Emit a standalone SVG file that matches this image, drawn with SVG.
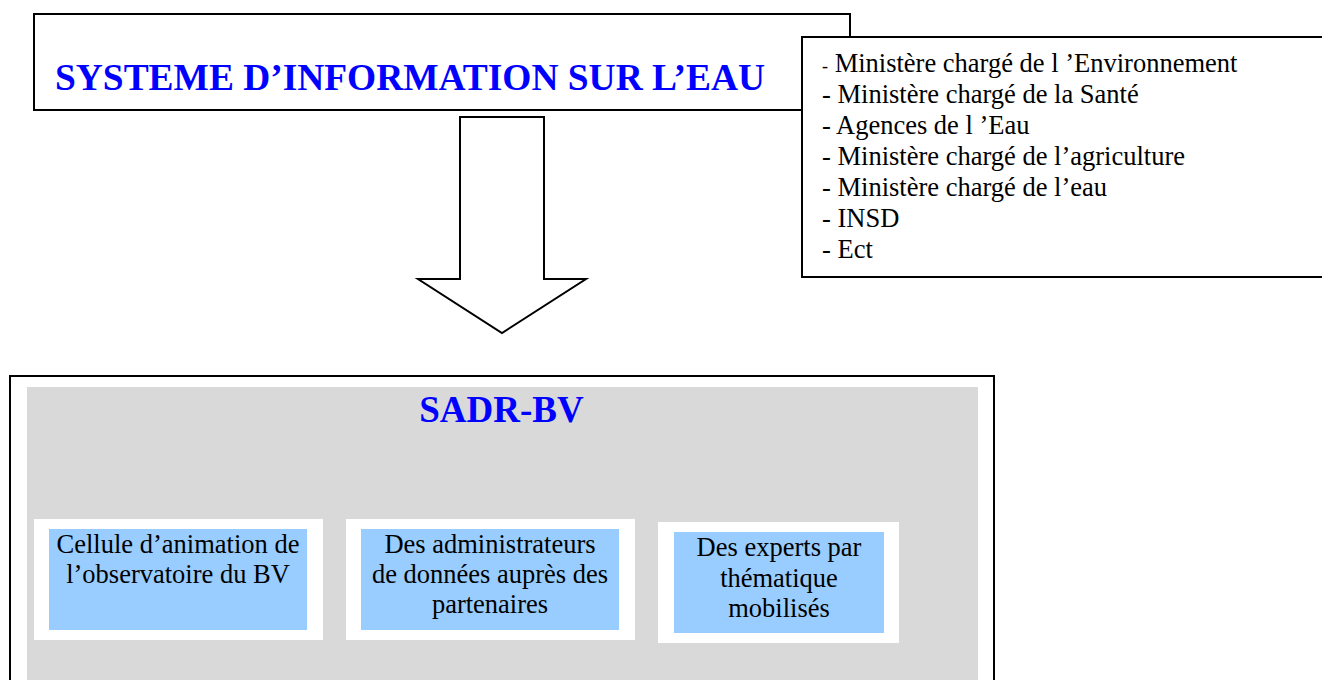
<svg xmlns="http://www.w3.org/2000/svg" width="1322" height="680" viewBox="0 0 1322 680">
<style>
  .box { fill: #ffffff; stroke: #000000; stroke-width: 2; }
  .title { font-family: "Liberation Serif", "Times New Roman", serif; font-weight: bold; font-size: 37px; fill: #0000FF; }
  .list { font-family: "Liberation Serif", "Times New Roman", serif; font-size: 26.5px; fill: #000000; }
  .lbl { font-family: "Liberation Serif", "Times New Roman", serif; font-size: 26.5px; fill: #000000; text-anchor: middle; }
  .cell { fill: #99CCFF; }
  .pad { fill: #ffffff; }
</style>
<rect width="1322" height="680" fill="#ffffff"/>

<g id="systeme-information">
  <rect class="box" x="34" y="14" width="816" height="96"/>
  <text class="title" x="55" y="90" textLength="710" lengthAdjust="spacingAndGlyphs">SYSTEME D’INFORMATION SUR L’EAU</text>
</g>

<g id="partenaires-liste">
  <rect class="box" x="802" y="37" width="530" height="240"/>
  <text class="list" x="822" y="72"><tspan font-size="18">-</tspan> Ministère chargé de l ’Environnement</text>
  <text class="list" x="822" y="103">- Ministère chargé de la Santé</text>
  <text class="list" x="822" y="134">- Agences de l ’Eau</text>
  <text class="list" x="822" y="165">- Ministère chargé de l’agriculture</text>
  <text class="list" x="822" y="196">- Ministère chargé de l’eau</text>
  <text class="list" x="822" y="227">- INSD</text>
  <text class="list" x="822" y="258">- Ect</text>
</g>

<g id="connectors">
  <polygon class="box" points="460,117 544,117 544,279 586,279 502,333 418,279 460,279"/>
</g>

<g id="sadr-bv">
  <rect class="box" x="10" y="376" width="984" height="320"/>
  <rect x="27" y="387" width="951" height="300" fill="#D9D9D9"/>
  <text class="title" x="501.5" y="422" text-anchor="middle">SADR-BV</text>
</g>

<g id="cellule-animation">
  <rect class="pad" x="34" y="519" width="289" height="121"/>
  <rect class="cell" x="49" y="529" width="258" height="101"/>
  <text class="lbl" x="178" y="553">Cellule d’animation de</text>
  <text class="lbl" x="178" y="583">l’observatoire du BV</text>
</g>

<g id="administrateurs-donnees">
  <rect class="pad" x="346" y="519" width="289" height="121"/>
  <rect class="cell" x="361" y="529" width="258" height="101"/>
  <text class="lbl" x="490" y="553">Des administrateurs</text>
  <text class="lbl" x="490" y="583">de données auprès des</text>
  <text class="lbl" x="490" y="613">partenaires</text>
</g>

<g id="experts-thematique">
  <rect class="pad" x="658" y="522" width="241" height="121"/>
  <rect class="cell" x="674" y="532" width="210" height="101"/>
  <text class="lbl" x="779" y="556">Des experts par</text>
  <text class="lbl" x="779" y="587">thématique</text>
  <text class="lbl" x="779" y="617">mobilisés</text>
</g>
</svg>
